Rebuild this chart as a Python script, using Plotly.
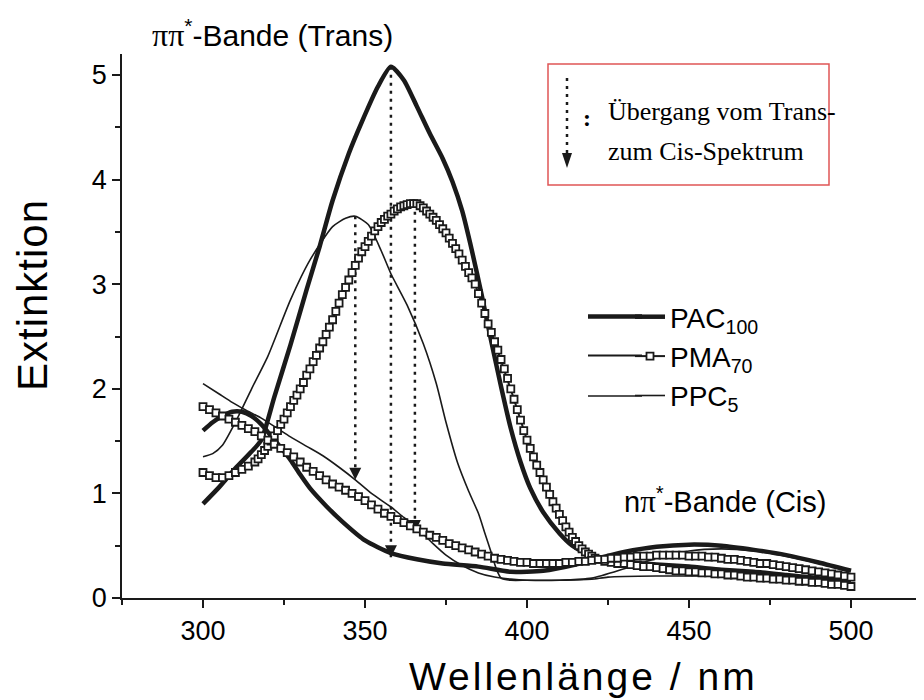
import plotly.graph_objects as go

# ---------------- data ----------------
# PMA70 trans (open squares): denser reading on the steep flanks
pma_trans_x = list(range(300, 317, 2)) + list(range(317, 423)) + list(range(424, 501, 2))
pma_trans = [1.20, 1.17, 1.15, 1.15, 1.17, 1.20, 1.23, 1.26, 1.30,
             1.33, 1.37, 1.41, 1.45, 1.50, 1.55, 1.60, 1.66, 1.71, 1.77,
             1.83, 1.89, 1.94, 2.00, 2.06, 2.13, 2.19, 2.26, 2.32, 2.39,
             2.45, 2.52, 2.59, 2.66, 2.74, 2.82, 2.90, 2.97, 3.04, 3.11,
             3.18, 3.25, 3.31, 3.36, 3.41, 3.46, 3.51, 3.55, 3.59, 3.62,
             3.65, 3.67, 3.70, 3.72, 3.74, 3.75, 3.76, 3.77, 3.77, 3.77,
             3.75, 3.73, 3.70, 3.67, 3.64, 3.61, 3.57, 3.53, 3.49, 3.44,
             3.39, 3.34, 3.29, 3.23, 3.17, 3.11, 3.06, 3.00, 2.91, 2.82,
             2.72, 2.62, 2.54, 2.45, 2.37, 2.28, 2.19, 2.10, 2.00, 1.90,
             1.80, 1.70, 1.60, 1.51, 1.43, 1.35, 1.27, 1.20, 1.13, 1.06,
             0.99, 0.92, 0.86, 0.80, 0.74, 0.68, 0.63, 0.58, 0.54, 0.50,
             0.47, 0.44, 0.42, 0.40, 0.38, 0.37,
             0.35, 0.34, 0.33, 0.33, 0.32, 0.31, 0.30, 0.30, 0.29, 0.28,
             0.27, 0.26, 0.26, 0.25, 0.25, 0.24, 0.24, 0.23, 0.23, 0.22,
             0.22, 0.21, 0.20, 0.20, 0.19, 0.19, 0.18, 0.18, 0.17, 0.17,
             0.16, 0.16, 0.15, 0.15, 0.14, 0.13, 0.13, 0.12, 0.11]
# PMA70 cis
pma_cis_x = list(range(300, 501, 2))
pma_cis = [1.83, 1.80, 1.77, 1.74, 1.71, 1.68, 1.65, 1.62, 1.59, 1.55,
           1.51, 1.47, 1.43, 1.39, 1.35, 1.30, 1.25, 1.21, 1.17, 1.13,
           1.09, 1.06, 1.03, 1.00, 0.97, 0.93, 0.89, 0.85, 0.81, 0.78,
           0.75, 0.72, 0.69, 0.66, 0.63, 0.60, 0.58, 0.55, 0.52, 0.50,
           0.48, 0.46, 0.44, 0.42, 0.40, 0.38, 0.37, 0.36, 0.35, 0.34,
           0.34, 0.33, 0.33, 0.33, 0.33, 0.33, 0.34, 0.34, 0.35, 0.35,
           0.36, 0.37, 0.37, 0.38, 0.38, 0.39, 0.39, 0.40, 0.40, 0.40,
           0.41, 0.41, 0.41, 0.41, 0.41, 0.40, 0.40, 0.40, 0.39, 0.39,
           0.38, 0.37, 0.37, 0.36, 0.35, 0.34, 0.33, 0.33, 0.32, 0.31,
           0.30, 0.29, 0.28, 0.27, 0.26, 0.25, 0.24, 0.23, 0.22, 0.21,
           0.20]

# PAC100 (thick line)
pac_trans_x = [300, 305, 310, 315, 318, 322, 327, 332, 336, 340, 345, 349, 354,
               358, 362, 366, 370, 374, 377, 380, 383, 386, 389, 392, 395, 398,
               401, 405, 410, 414, 418, 422, 430, 440, 450, 460, 470, 480, 490, 500]
pac_trans = [0.90, 1.06, 1.24, 1.40, 1.51, 1.92, 2.42, 2.95, 3.36, 3.80, 4.25,
             4.55, 4.89, 5.08, 4.95, 4.70, 4.44, 4.20, 3.98, 3.70, 3.32, 2.90,
             2.45, 2.02, 1.62, 1.30, 1.05, 0.82, 0.62, 0.50, 0.43, 0.39, 0.35,
             0.32, 0.30, 0.27, 0.25, 0.22, 0.19, 0.17]
pac_cis_x = [300, 303, 306, 309, 312, 315, 318, 321, 324, 327, 330, 333, 338,
             343, 350, 358, 366, 374, 385, 395, 405, 415, 422, 430, 440, 450,
             460, 470, 480, 490, 500]
pac_cis = [1.60, 1.68, 1.74, 1.78, 1.78, 1.74, 1.66, 1.55, 1.44, 1.32, 1.18,
           1.05, 0.88, 0.73, 0.55, 0.43, 0.37, 0.33, 0.30, 0.25, 0.26, 0.32,
           0.38, 0.44, 0.49, 0.51, 0.50, 0.46, 0.41, 0.34, 0.26]

# PPC5 (thin line)
ppc_trans_x = [300, 303, 306, 310, 315, 320, 327, 333, 340, 344, 347, 351, 355,
               358, 363, 368, 372, 375, 378.6, 382, 385, 387, 389, 390.5, 392,
               395, 400, 410, 420, 425, 440, 460, 480, 500]
ppc_trans = [1.35, 1.38, 1.46, 1.68, 2.00, 2.31, 2.85, 3.23, 3.55, 3.63, 3.65,
             3.57, 3.32, 3.10, 2.80, 2.43, 2.05, 1.68, 1.29, 1.02, 0.81, 0.62,
             0.43, 0.28, 0.19, 0.17, 0.17, 0.17, 0.18, 0.20, 0.21, 0.21, 0.20,
             0.19]
ppc_cis_x = [300, 305, 309, 313, 318, 323, 327, 332, 337, 342, 347, 352, 358,
             362, 365, 368, 371, 375, 380, 385, 390, 395, 400, 410, 420, 430,
             440, 450, 460, 470, 480, 490, 500]
ppc_cis = [2.05, 1.95, 1.87, 1.80, 1.72, 1.62, 1.54, 1.45, 1.36, 1.25, 1.13,
           1.00, 0.87, 0.77, 0.70, 0.61, 0.52, 0.41, 0.31, 0.24, 0.20, 0.18,
           0.17, 0.17, 0.19, 0.28, 0.38, 0.45, 0.47, 0.45, 0.40, 0.33, 0.26]

# Trans -> Cis transition arrows (wavelength, start value, end value)
arrow_x = [347, 358, 365.4]
arrow_top = [3.65, 5.08, 3.77]
arrow_tip = [1.13, 0.39, 0.63]

legend_names = ["PAC<sub>100</sub>", "PMA<sub>70</sub>", "PPC<sub>5</sub>"]
x_ticks = [300, 350, 400, 450, 500]
y_ticks = [0, 1, 2, 3, 4, 5]

# ---------------- layout geometry ----------------
W, H = 924, 700
OFF = 8                      # page body margin of the browser
L, R, T, B = 114, 916, 46, 590   # plot area in figure pixels
INK = "#1a1a1a"
SANS = "Liberation Sans, Arial, sans-serif"
SERIF = "Liberation Serif, Times New Roman, serif"


def px(x):  # screen pixel -> paper
    return (x - OFF - L) / (R - L)


def py(y):
    return (B - (y - OFF)) / (B - T)


fig = go.Figure()

# arrows (dotted lines + heads)
for xa, ya, yb in zip(arrow_x, arrow_top, arrow_tip):
    fig.add_trace(go.Scatter(x=[xa, xa], y=[ya, yb], mode="lines",
                             line=dict(color=INK, width=2.5, dash="3px,5px"),
                             showlegend=False, hoverinfo="skip"))
fig.add_trace(go.Scatter(x=arrow_x, y=arrow_tip, mode="markers",
                         marker=dict(symbol="arrow-down", size=12, color=INK,
                                     line=dict(width=0)),
                         showlegend=False, hoverinfo="skip"))

# PPC5 thin
fig.add_trace(go.Scatter(x=ppc_trans_x, y=ppc_trans, mode="lines", name=legend_names[2],
                         line=dict(color=INK, width=1.6, shape="spline", smoothing=0.6),
                         legendrank=3))
fig.add_trace(go.Scatter(x=ppc_cis_x, y=ppc_cis, mode="lines", showlegend=False,
                         line=dict(color=INK, width=1.6, shape="spline", smoothing=0.6)))

# PAC100 thick
fig.add_trace(go.Scatter(x=pac_trans_x, y=pac_trans, mode="lines", name=legend_names[0],
                         line=dict(color=INK, width=4.5, shape="spline", smoothing=0.6),
                         legendrank=1))
fig.add_trace(go.Scatter(x=pac_cis_x, y=pac_cis, mode="lines", showlegend=False,
                         line=dict(color=INK, width=4.5, shape="spline", smoothing=0.6)))

# PMA70 squares
sq = dict(symbol="square", size=7, color="white", line=dict(color=INK, width=1.8))
fig.add_trace(go.Scatter(x=pma_trans_x, y=pma_trans, mode="lines+markers", name=legend_names[1],
                         line=dict(color=INK, width=2), marker=sq, legendrank=2))
fig.add_trace(go.Scatter(x=pma_cis_x, y=pma_cis, mode="lines+markers", showlegend=False,
                         line=dict(color=INK, width=2), marker=sq))

axis_common = dict(showline=True, linecolor=INK, linewidth=1.5, ticks="outside",
                   tickcolor=INK, tickwidth=1.5, ticklen=8, showgrid=False,
                   zeroline=False, tickfont=dict(family=SANS, size=27, color="black"))

fig.update_xaxes(range=[275, 275 + (R - L) / 3.24], tickvals=x_ticks,
                 minor=dict(dtick=25, tick0=275, ticks="outside", ticklen=5,
                            tickcolor=INK, tickwidth=1.5, showgrid=False),
                 **axis_common)
fig.update_yaxes(range=[0, (B - T) / 104.6], tickvals=y_ticks,
                 minor=dict(dtick=0.5, tick0=0, ticks="outside", ticklen=5,
                            tickcolor=INK, tickwidth=1.5, showgrid=False),
                 **axis_common)

ann = []
ann.append(dict(text='<span style="letter-spacing:1px">Extinktion</span>', x=px(32), y=py(295),
                xref="paper", yref="paper", textangle=-90, showarrow=False,
                font=dict(family=SANS, size=42, color="black"),
                xanchor="center", yanchor="middle"))
ann.append(dict(text='<span style="letter-spacing:3px">Wellenlänge / nm</span>', x=px(583), y=py(676),
                xref="paper", yref="paper", showarrow=False,
                font=dict(family=SANS, size=39, color="black"),
                xanchor="center", yanchor="middle"))
ann.append(dict(text=f'<span style="font-family:{SERIF};font-size:32px">ππ</span><sup>*</sup>-Bande (Trans)',
                x=px(150), y=py(33), xref="paper", yref="paper", showarrow=False,
                font=dict(family=SANS, size=30, color="black"), xanchor="left", yanchor="middle"))
ann.append(dict(text=f'n<span style="font-family:{SERIF};font-size:31px">π</span><sup>*</sup>-Bande (Cis)',
                x=px(622), y=py(500), xref="paper", yref="paper", showarrow=False,
                font=dict(family=SANS, size=29, color="black"), xanchor="left", yanchor="middle"))
ann.append(dict(text="Übergang vom Trans-", x=px(606), y=py(112), xref="paper", yref="paper",
                showarrow=False, font=dict(family=SERIF, size=26, color="black"),
                xanchor="left", yanchor="middle"))
ann.append(dict(text="zum Cis-Spektrum", x=px(606), y=py(151), xref="paper", yref="paper",
                showarrow=False, font=dict(family=SERIF, size=26, color="black"),
                xanchor="left", yanchor="middle"))
ann.append(dict(text="<b>:</b>", x=px(587), y=py(118), xref="paper", yref="paper",
                showarrow=False, font=dict(family=SERIF, size=24, color="black"),
                xanchor="center", yanchor="middle"))

shapes = []
shapes.append(dict(type="rect", xref="paper", yref="paper", x0=px(548), x1=px(829),
                   y0=py(64), y1=py(185), line=dict(color="#e05555", width=1.5),
                   fillcolor="rgba(0,0,0,0)"))
shapes.append(dict(type="line", xref="paper", yref="paper", x0=px(567), x1=px(567),
                   y0=py(78), y1=py(156), line=dict(color=INK, width=2.5, dash="3px,5px")))
shapes.append(dict(type="path", xref="paper", yref="paper",
                   path=f"M {px(562)} {py(153)} L {px(572)} {py(153)} L {px(567)} {py(168)} Z",
                   fillcolor=INK, line=dict(color=INK, width=0)))
# lengthen the legend sample lines to the left, as in the original key
for ys, wd in zip([316.5, 355.5, 396], [4.5, 2, 1.6]):
    shapes.append(dict(type="line", xref="paper", yref="paper", x0=px(588), x1=px(642),
                       y0=py(ys), y1=py(ys), line=dict(color=INK, width=wd)))

fig.update_layout(
    width=W, height=H,
    margin=dict(l=L, r=W - R, t=T, b=H - B, pad=0),
    paper_bgcolor="white", plot_bgcolor="white",
    annotations=ann, shapes=shapes,
    showlegend=True,
    legend=dict(x=px(630), y=py(292), xanchor="left", yanchor="top",
                bgcolor="rgba(0,0,0,0)", font=dict(family=SANS, size=28, color="black"),
                traceorder="normal", itemwidth=30),
)

fig.write_html("out.html")
